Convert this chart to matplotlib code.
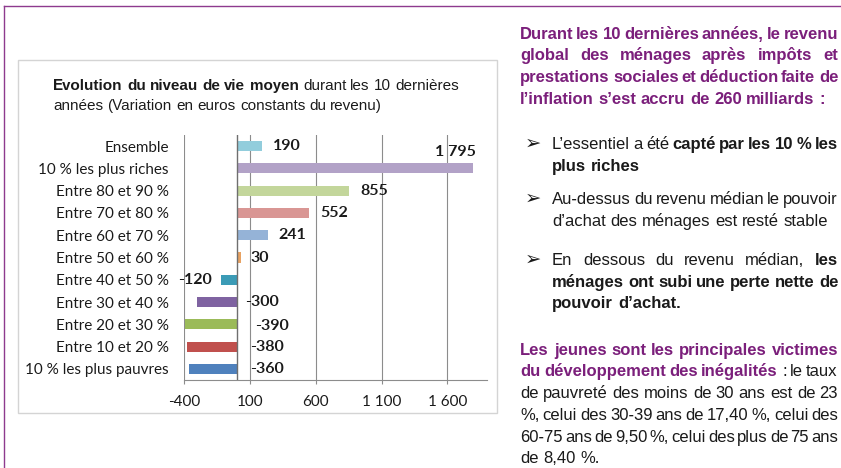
import matplotlib

matplotlib.use("Agg")
import matplotlib.pyplot as plt
from matplotlib import font_manager
from matplotlib.patches import Rectangle
from matplotlib.lines import Line2D

# native hinting keeps per-word baselines aligned
plt.rcParams["text.hinting"] = "native"

# data
categories = [
    "Ensemble",
    "10 % les plus riches",
    "Entre 80 et 90 %",
    "Entre 70 et 80 %",
    "Entre 60 et 70 %",
    "Entre 50 et 60 %",
    "Entre 40 et 50 %",
    "Entre 30 et 40 %",
    "Entre 20 et 30 %",
    "Entre 10 et 20 %",
    "10 % les plus pauvres",
]
values = [190, 1795, 855, 552, 241, 30, -120, -300, -390, -380, -360]
x_ticks = [-400, 100, 600, 1100, 1600]
x_ticklabels = ["-400", "100", "600", "1 100", "1 600"]

bar_colors = ["#92cddc", "#b2a2c7", "#c3d69b", "#d99694", "#95b3d7", "#e8a262",
              "#3b9bb6", "#7f63a1", "#9bbb59", "#c0504d", "#4f81bd"]
# label placement (px from anchor), mimics the Excel layout
lbl_dx = [11, 3, 11, 11, 10, 10, -9, 8, 18, 13, 13]
lbl_dy = [0, 16, 0, 0, 0, 0, 0, 0, -2, 0, 0]
lbl_ha = ["left", "right", "left", "left", "left", "left", "right",
          "left", "left", "left", "left"]

W, H = 841, 468
PURPLE = "#7b1f7b"
TXT = "#1a1a1a"
GRID = "#8c8c8c"


def pick(*names):
    for name in names:
        try:
            font_manager.findfont(font_manager.FontProperties(family=name),
                                  fallback_to_default=False)
            return name
        except ValueError:
            continue
    return "DejaVu Sans"


NARROW = pick("Liberation Sans Narrow", "Liberation Sans")
ARIAL = pick("Liberation Sans", "DejaVu Sans")
CALIBRI = pick("Lato", "Open Sans", "DejaVu Sans")

fig = plt.figure(figsize=(W / 100, H / 100), dpi=100)
fig.patch.set_facecolor("white")

# slide frame + chart box
fig.add_artist(Line2D([4 / W, 1], [1 - 6 / H, 1 - 6 / H], color="#8e3a8e", lw=1))
fig.add_artist(Line2D([4 / W, 4 / W], [0, 1 - 6 / H], color="#8e3a8e", lw=1))
fig.add_artist(Rectangle((18 / W, 1 - 413 / H), 479 / W, 353 / H, fill=False,
                         edgecolor="#d4d4d4", lw=1))

ax = fig.add_axes([184 / W, 1 - 380 / H, 303 / W, 245 / H])
pos = list(range(len(categories)))
ax.barh(pos, values, height=0.45, color=bar_colors, zorder=3)
ax.set_xlim(-400, 1900)
ax.set_ylim(len(categories) - 0.5, -0.5)
ax.axvline(0, color="#6f6f6f", lw=1, zorder=4)
ax.set_xticks(x_ticks)
ax.set_xticklabels(x_ticklabels, fontsize=11, family=CALIBRI, color=TXT)
ax.set_yticks(pos)
ax.set_yticklabels(categories, fontsize=11, family=CALIBRI, color=TXT)
ax.tick_params(axis="y", length=0, pad=11)
ax.tick_params(axis="x", length=3, color=GRID, pad=8)
ax.grid(axis="x", color=GRID, lw=0.8, zorder=0)
for side in ("top", "right", "left"):
    ax.spines[side].set_visible(False)
ax.spines["bottom"].set_color(GRID)

for i, v in enumerate(values):
    anchor = 0 if (v < 0 and lbl_ha[i] == "left") else v
    ax.annotate(f"{v:,}".replace(",", " "), xy=(anchor, i),
                xytext=(lbl_dx[i] * 0.72, lbl_dy[i] * 0.72), textcoords="offset points",
                ha=lbl_ha[i], va="center", fontsize=11.5, fontweight="bold",
                family=CALIBRI, color=TXT, zorder=5)

renderer = fig.canvas.get_renderer()


def put_line(segs, x0, x1, y, size, family, justify):
    """Lay out one line word by word (left aligned or justified to x1)."""
    words = []
    for text, weight, color in segs:
        for w in text.split():
            words.append(fig.text(0, 0, w, fontsize=size, fontweight=weight, color=color,
                                  family=family, va="baseline", ha="left"))
    widths = [t.get_window_extent(renderer).width for t in words]
    probe = fig.text(0, 0, "x x", fontsize=size, family=family)
    probe2 = fig.text(0, 0, "xx", fontsize=size, family=family)
    space = probe.get_window_extent(renderer).width - probe2.get_window_extent(renderer).width
    probe.remove()
    probe2.remove()
    gap = space
    if justify and len(words) > 1:
        gap = (x1 - x0 - sum(widths)) / (len(words) - 1)
    x = x0
    for t, w in zip(words, widths):
        t.set_position((round(x) / W, 1 - round(y) / H))
        x += w + gap


# chart title
put_line([("Evolution du niveau de vie moyen", "bold", TXT),
          ("durant les 10 dernières", "normal", TXT)], 53, 0, 90, 11, ARIAL, False)
put_line([("années (Variation en euros constants du revenu)", "normal", TXT)],
         53, 0, 110, 11, ARIAL, False)

# right-hand text
RS = 12
L0, L1, B0 = 520, 838, 552
para1 = [
    "Durant les 10 dernières années, le revenu",
    "global des ménages après impôts et",
    "prestations sociales et déduction faite de",
    "l’inflation s’est accru de 260 milliards :",
]
for k, (line, y) in enumerate(zip(para1, [39, 60.5, 82, 103.5])):
    put_line([(line, "bold", PURPLE)], L0, L1, y, RS, NARROW, k < len(para1) - 1)

bullets = [
    ([[("L’essentiel a été", "normal", TXT), ("capté par les 10 % les", "bold", TXT)],
      [("plus riches", "bold", TXT)]], [149, 171]),
    ([[("Au-dessus du revenu médian le pouvoir", "normal", TXT)],
      [("d’achat des ménages est resté stable", "normal", TXT)]], [204, 226]),
    ([[("En dessous du revenu médian,", "normal", TXT), ("les", "bold", TXT)],
      [("ménages ont subi une perte nette de", "bold", TXT)],
      [("pouvoir d’achat.", "bold", TXT)]], [265, 287, 308]),
]
for lines, ys in bullets:
    fig.text(525 / W, 1 - ys[0] / H, "➢", fontsize=14, family="DejaVu Sans", color=TXT,
             va="baseline", ha="left")
    for k, (segs, y) in enumerate(zip(lines, ys)):
        put_line(segs, B0, L1, y, RS, NARROW, k < len(lines) - 1)

para2 = [
    [("Les jeunes sont les principales victimes", "bold", PURPLE)],
    [("du développement des inégalités", "bold", PURPLE), (": le taux", "normal", TXT)],
    [("de pauvreté des moins de 30 ans est de 23", "normal", TXT)],
    [("%, celui des 30-39 ans de 17,40 %, celui des", "normal", TXT)],
    [("60-75 ans de 9,50 %, celui des plus de 75 ans", "normal", TXT)],
    [("de 8,40 %.", "normal", TXT)],
]
for k, (segs, y) in enumerate(zip(para2, [355, 376.5, 398, 420, 441.5, 463])):
    put_line(segs, L0, L1, y, RS, NARROW, k < len(para2) - 1)

fig.savefig("out.png", dpi=100, facecolor="white")
